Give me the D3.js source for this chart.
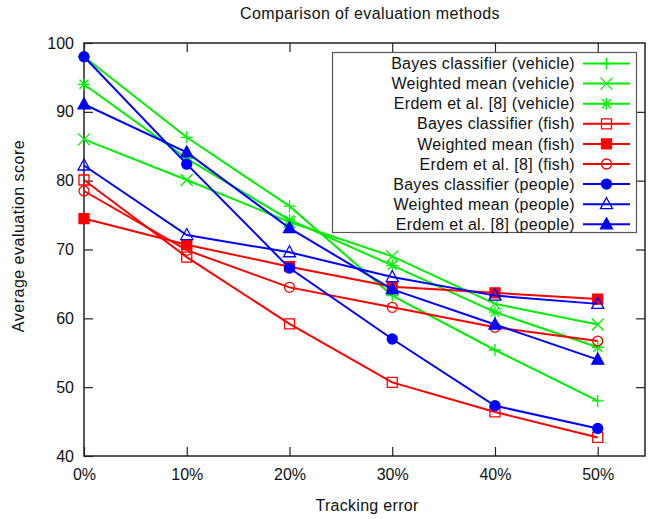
<!DOCTYPE html>
<html>
<head>
<meta charset="utf-8">
<script src="https://cdn.jsdelivr.net/npm/d3@7"></script>
<style>
  body { margin: 0; background: #fff; }
  text { font-family: "Liberation Sans", Arial, sans-serif; fill: #111; }
</style>
</head>
<body>
<div id="chart"></div>
<script>
'use strict';

// tracking error (%) on x
var errors = [0, 10, 20, 30, 40, 50];
var xTicks = [0, 10, 20, 30, 40, 50];
var yTicks = [40, 50, 60, 70, 80, 90, 100];

var seriesNames = [
  'Bayes classifier (vehicle)', 'Weighted mean (vehicle)', 'Erdem et al. [8] (vehicle)',
  'Bayes classifier (fish)', 'Weighted mean (fish)', 'Erdem et al. [8] (fish)',
  'Bayes classifier (people)', 'Weighted mean (people)', 'Erdem et al. [8] (people)'
];

var bayesVehicle    = [98.0, 86.3, 76.3, 63.3, 55.4, 48.0];
var weightedVehicle = [86.0, 80.1, 74.0, 69.0, 62.1, 59.1];
var erdemVehicle    = [94.0, 83.2, 74.3, 67.7, 60.9, 55.8];
var bayesFish       = [80.1, 68.9, 59.2, 50.7, 46.4, 42.7];
var weightedFish    = [74.5, 70.7, 67.5, 64.6, 63.7, 62.8];
var erdemFish       = [78.5, 69.9, 64.5, 61.6, 58.7, 56.7];
var bayesPeople     = [98.0, 82.4, 67.3, 57.0, 47.3, 44.0];
var weightedPeople  = [82.2, 72.1, 69.6, 66.0, 63.3, 62.1];
var erdemPeople     = [91.1, 84.1, 73.1, 64.2, 59.1, 54.0];

var seriesValues = [bayesVehicle, weightedVehicle, erdemVehicle,
                    bayesFish, weightedFish, erdemFish,
                    bayesPeople, weightedPeople, erdemPeople];

var colors = ['#00ee00', '#00ee00', '#00ee00', '#ff0000', '#ff0000', '#ff0000', '#0000ff', '#0000ff', '#0000ff'];
var markers = ['plus', 'cross', 'star', 'square', 'squareFill', 'circle', 'circleFill', 'triangle', 'triangleFill'];

var W = 662, H = 519;
var plotL = 84, plotR = 645, plotT = 43, plotB = 456;
var fontSize = '16px';

var svg = d3.select('#chart').append('svg')
    .attr('width', W)
    .attr('height', H);

var x = d3.scaleLinear().domain([0, 54.6]).range([plotL, plotR]);
var y = d3.scaleLinear().domain([40, 100]).range([plotB, plotT]);

// axes with inward ticks on all four sides
var tick = 9;
svg.append('g')
    .attr('transform', 'translate(0,' + plotB + ')')
    .call(d3.axisBottom(x).tickValues(xTicks).tickSize(-tick).tickPadding(13)
      .tickFormat(function(d){ return d + '%'; }))
    .call(styleAxis);
svg.append('g')
    .attr('transform', 'translate(0,' + plotT + ')')
    .call(d3.axisTop(x).tickValues(xTicks).tickSize(-tick).tickFormat(''))
    .call(styleAxis);
svg.append('g')
    .attr('transform', 'translate(' + plotL + ',0)')
    .call(d3.axisLeft(y).tickValues(yTicks).tickSize(-tick).tickPadding(10))
    .call(styleAxis);
svg.append('g')
    .attr('transform', 'translate(' + plotR + ',0)')
    .call(d3.axisRight(y).tickValues(yTicks.slice(1, -1)).tickSize(-tick).tickFormat(''))
    .call(styleAxis);

function styleAxis(g){
  g.select('.domain').remove();
  g.selectAll('.tick line').attr('stroke', '#222').attr('stroke-width', 1.2);
  g.selectAll('.tick text').style('font-size', fontSize).attr('fill', '#111');
}

svg.append('rect')
    .attr('x', plotL).attr('y', plotT)
    .attr('width', plotR - plotL).attr('height', plotB - plotT)
    .attr('fill', 'none').attr('stroke', '#222').attr('stroke-width', 1.5);

// marker shapes
function markerPath(kind){
  var s = 6, r = 5;
  switch (kind) {
    case 'plus': return 'M' + (-s) + ',0H' + s + 'M0,' + (-s) + 'V' + s;
    case 'cross': return 'M' + (-s) + ',' + (-s) + 'L' + s + ',' + s + 'M' + (-s) + ',' + s + 'L' + s + ',' + (-s);
    case 'star': return 'M' + (-s) + ',0H' + s + 'M0,' + (-s) + 'V' + s +
      'M' + (-s*0.75) + ',' + (-s*0.75) + 'L' + (s*0.75) + ',' + (s*0.75) +
      'M' + (-s*0.75) + ',' + (s*0.75) + 'L' + (s*0.75) + ',' + (-s*0.75);
    case 'square': case 'squareFill':
      return 'M' + (-r) + ',' + (-r) + 'H' + r + 'V' + r + 'H' + (-r) + 'Z';
    case 'circle': case 'circleFill':
      return 'M' + r + ',0A' + r + ',' + r + ' 0 1,1 ' + (-r) + ',0A' + r + ',' + r + ' 0 1,1 ' + r + ',0Z';
    case 'triangle': case 'triangleFill':
      return 'M0,' + (-6.5) + 'L6,4.5L-6,4.5Z';
  }
}
function isFilled(kind){ return /Fill$/.test(kind); }

function drawMarker(g, kind, color, px, py){
  g.append('path')
      .attr('transform', 'translate(' + px + ',' + py + ')')
      .attr('d', markerPath(kind))
      .attr('fill', isFilled(kind) ? color : 'none')
      .attr('stroke', color)
      .attr('stroke-width', 1.3);
}

var line = d3.line()
    .x(function(d, i){ return x(errors[i]); })
    .y(function(d){ return y(d); });

var plot = svg.append('g');
seriesValues.forEach(function(vals, k){
  plot.append('path')
      .datum(vals)
      .attr('d', line)
      .attr('fill', 'none')
      .attr('stroke', colors[k])
      .attr('stroke-width', 2);
  vals.forEach(function(v, i){
    drawMarker(plot, markers[k], colors[k], x(errors[i]), y(v));
  });
});

// legend
var lg = svg.append('g');
lg.append('rect')
    .attr('x', 332.5).attr('y', 52.5)
    .attr('width', 304).attr('height', 180)
    .attr('fill', '#fff').attr('stroke', '#555').attr('stroke-width', 1.2);
seriesNames.forEach(function(name, k){
  var cy = 63.5 + k * 20.1;
  lg.append('text')
      .attr('x', 575).attr('y', cy)
      .attr('dy', '0.35em')
      .attr('text-anchor', 'end')
      .style('font-size', fontSize)
      .style('letter-spacing', '0.3px')
      .text(name);
  lg.append('line')
      .attr('x1', 583).attr('x2', 630)
      .attr('y1', cy).attr('y2', cy)
      .attr('stroke', colors[k]).attr('stroke-width', 2);
  drawMarker(lg, markers[k], colors[k], 606.5, cy);
});

// titles
svg.append('text')
    .attr('x', 370).attr('y', 19)
    .attr('text-anchor', 'middle')
    .style('font-size', fontSize)
    .style('letter-spacing', '0.4px')
    .text('Comparison of evaluation methods');
svg.append('text')
    .attr('x', 367).attr('y', 511)
    .attr('text-anchor', 'middle')
    .style('font-size', fontSize)
    .style('letter-spacing', '0.3px')
    .text('Tracking error');
svg.append('text')
    .attr('transform', 'translate(24,236) rotate(-90)')
    .attr('text-anchor', 'middle')
    .style('font-size', fontSize)
    .style('letter-spacing', '0.5px')
    .text('Average evaluation score');
</script>
</body>
</html>
